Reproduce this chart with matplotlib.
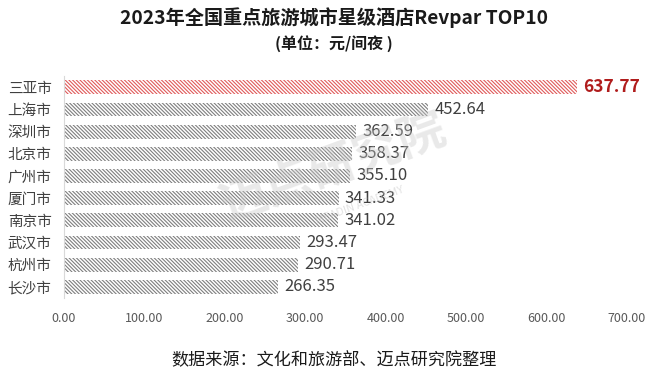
import matplotlib
matplotlib.use("Agg")
import matplotlib.pyplot as plt

plt.rcParams['font.family'] = ['Noto Sans CJK SC', 'DejaVu Sans']
plt.rcParams['hatch.linewidth'] = 0.8

cities = ["三亚市", "上海市", "深圳市", "北京市", "广州市",
          "厦门市", "南京市", "武汉市", "杭州市", "长沙市"]
revpar = [637.77, 452.64, 362.59, 358.37, 355.10,
          341.33, 341.02, 293.47, 290.71, 266.35]
xticks = [0, 100, 200, 300, 400, 500, 600, 700]

fig = plt.figure(figsize=(6.67, 3.81), dpi=100)
ax = fig.add_axes([0.096, 0.218, 0.844, 0.582])

ypos = list(range(len(cities)))
for i, (c, v) in enumerate(zip(cities, revpar)):
    top = i == 0
    col = "#e05a5a" if top else "#7f7f7f"
    ax.barh(i, v, height=0.62, color="white", edgecolor=col, hatch="\\" * 9,
            linewidth=0)
    ax.text(v + 8, i, f"{v:.2f}", va="center", ha="left",
            fontsize=12.5 if top else 12,
            fontweight="bold" if top else "normal",
            color="#b01c1c" if top else "#404040")

ax.set_ylim(len(cities) - 0.5, -0.5)
ax.set_xlim(0, 700)
ax.set_yticks(ypos)
ax.set_yticklabels(cities, fontsize=10.5, color="#404040")
ax.set_xticks(xticks)
ax.set_xticklabels([f"{t:.2f}" for t in xticks], fontsize=9, color="#595959")
ax.tick_params(length=0)
ax.tick_params(axis="x", pad=10)
ax.tick_params(axis="y", pad=9)
for s in ["top", "right", "bottom"]:
    ax.spines[s].set_visible(False)
ax.spines["left"].set_color("#d9d9d9")

fig.text(0.5, 0.955, "2023年全国重点旅游城市星级酒店Revpar TOP10",
         ha="center", va="center", fontsize=13.8, fontweight="bold", color="#1a1a1a")
fig.text(0.5, 0.885, "(单位：元/间夜 )", ha="center", va="center",
         fontsize=11.5, fontweight="bold", color="#1a1a1a")
fig.text(0.5, 0.055, "数据来源：文化和旅游部、迈点研究院整理",
         ha="center", va="center", fontsize=12.3, color="#1a1a1a")

# faint watermark
fig.text(0.50, 0.56, "迈点研究院", ha="center", va="center", fontsize=34,
         rotation=20, color="#c8c8c8", alpha=0.4, fontweight="bold")
fig.text(0.54, 0.46, "MEADIN ACADEMY", ha="center", va="center", fontsize=8,
         rotation=20, color="#c8c8c8", alpha=0.5)

fig.savefig("out.png", dpi=100)
